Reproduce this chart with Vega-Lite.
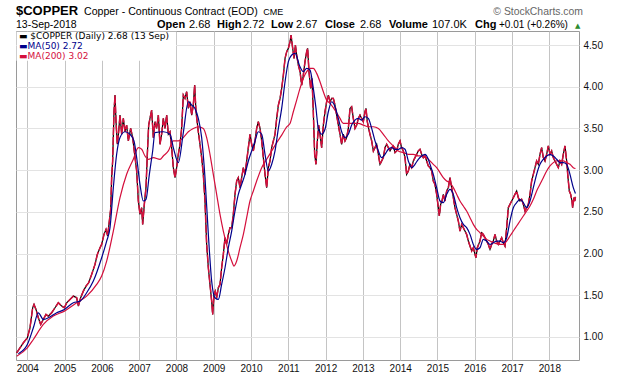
{
"$schema":"https://vega.github.io/schema/vega-lite/v6.json",
"width":563,"height":329,
"autosize":{"type":"none"},
"padding":{"left":16,"top":31,"right":41,"bottom":16},
"background":"white",
"config":{"view":{"stroke":"#9a9a9a","strokeWidth":1},"font":"Liberation Sans"},
"datasets":{
"px":[
{"t":2003.715,"v":0.81},{"t":2003.804,"v":0.87},{"t":2003.894,"v":0.93},{"t":2004.001,"v":0.99},{"t":2004.072,"v":1.11},{"t":2004.144,"v":1.35},{"t":2004.18,"v":1.39},{"t":2004.233,"v":1.33},{"t":2004.296,"v":1.23},{"t":2004.358,"v":1.15},{"t":2004.43,"v":1.21},{"t":2004.501,"v":1.27},{"t":2004.564,"v":1.25},{"t":2004.653,"v":1.29},{"t":2004.743,"v":1.35},{"t":2004.832,"v":1.41},{"t":2004.922,"v":1.37},{"t":2004.994,"v":1.35},{"t":2005.056,"v":1.41},{"t":2005.146,"v":1.45},{"t":2005.235,"v":1.49},{"t":2005.324,"v":1.47},{"t":2005.369,"v":1.37},{"t":2005.431,"v":1.47},{"t":2005.503,"v":1.55},{"t":2005.575,"v":1.61},{"t":2005.646,"v":1.65},{"t":2005.726,"v":1.75},{"t":2005.816,"v":1.87},{"t":2005.878,"v":1.99},{"t":2005.95,"v":2.07},{"t":2005.994,"v":2.11},{"t":2006.057,"v":2.23},{"t":2006.111,"v":2.29},{"t":2006.155,"v":2.21},{"t":2006.2,"v":2.39},{"t":2006.236,"v":2.53},{"t":2006.262,"v":2.91},{"t":2006.289,"v":3.11},{"t":2006.325,"v":3.7},{"t":2006.352,"v":3.9},{"t":2006.379,"v":3.58},{"t":2006.414,"v":3.31},{"t":2006.45,"v":3.46},{"t":2006.486,"v":3.66},{"t":2006.531,"v":3.43},{"t":2006.575,"v":3.62},{"t":2006.62,"v":3.46},{"t":2006.664,"v":3.54},{"t":2006.709,"v":3.35},{"t":2006.772,"v":3.5},{"t":2006.826,"v":3.39},{"t":2006.879,"v":3.19},{"t":2006.933,"v":2.99},{"t":2006.978,"v":2.63},{"t":2007.022,"v":2.47},{"t":2007.067,"v":2.55},{"t":2007.094,"v":2.35},{"t":2007.138,"v":2.59},{"t":2007.183,"v":2.79},{"t":2007.219,"v":3.19},{"t":2007.255,"v":3.54},{"t":2007.29,"v":3.62},{"t":2007.335,"v":3.72},{"t":2007.38,"v":3.39},{"t":2007.424,"v":3.58},{"t":2007.469,"v":3.5},{"t":2007.514,"v":3.66},
{"t":2007.558,"v":3.31},{"t":2007.603,"v":3.43},{"t":2007.648,"v":3.62},{"t":2007.692,"v":3.5},{"t":2007.737,"v":3.66},{"t":2007.782,"v":3.43},{"t":2007.827,"v":3.46},{"t":2007.871,"v":3.27},{"t":2007.916,"v":3.03},{"t":2007.961,"v":2.91},{"t":2008.005,"v":3.03},{"t":2008.05,"v":3.19},{"t":2008.095,"v":3.31},{"t":2008.139,"v":3.5},{"t":2008.184,"v":3.9},{"t":2008.229,"v":3.86},{"t":2008.274,"v":3.94},{"t":2008.318,"v":3.74},{"t":2008.363,"v":3.82},{"t":2008.408,"v":3.66},{"t":2008.452,"v":3.78},{"t":2008.488,"v":4.02},{"t":2008.524,"v":3.7},{"t":2008.586,"v":3.46},{"t":2008.631,"v":3.31},{"t":2008.676,"v":3.15},{"t":2008.72,"v":2.95},{"t":2008.765,"v":2.63},{"t":2008.81,"v":2.11},{"t":2008.855,"v":1.83},{"t":2008.899,"v":1.63},{"t":2008.944,"v":1.43},{"t":2008.971,"v":1.27},{"t":2009.007,"v":1.51},{"t":2009.042,"v":1.55},{"t":2009.078,"v":1.47},{"t":2009.123,"v":1.59},{"t":2009.168,"v":1.63},{"t":2009.212,"v":1.83},{"t":2009.257,"v":1.99},{"t":2009.302,"v":2.19},{"t":2009.346,"v":2.11},{"t":2009.391,"v":2.23},{"t":2009.436,"v":2.31},{"t":2009.481,"v":2.31},{"t":2009.525,"v":2.47},{"t":2009.57,"v":2.71},{"t":2009.615,"v":2.87},{"t":2009.659,"v":2.91},{"t":2009.704,"v":2.79},{"t":2009.749,"v":2.91},{"t":2009.794,"v":3.03},{"t":2009.838,"v":2.95},{"t":2009.883,"v":3.11},{"t":2009.928,"v":3.27},{"t":2009.972,"v":3.43},{"t":2010.017,"v":3.31},{"t":2010.062,"v":3.23},{"t":2010.107,"v":3.35},{"t":2010.151,"v":3.5},{"t":2010.196,"v":3.58},{"t":2010.241,"v":3.5},{"t":2010.286,"v":3.35},{"t":2010.33,"v":3.15},{"t":2010.375,"v":2.95},{"t":2010.42,"v":2.79},{"t":2010.464,"v":3.03},{"t":2010.509,"v":3.11},{"t":2010.554,"v":3.27},{"t":2010.599,"v":3.35},{"t":2010.643,"v":3.43},{"t":2010.688,"v":3.62},{"t":2010.733,"v":3.78},{"t":2010.778,"v":3.86},{"t":2010.822,"v":3.98},{"t":2010.867,"v":4.14},{"t":2010.912,"v":4.34},{"t":2010.957,"v":4.42},{"t":2011.001,"v":4.46},{"t":2011.046,"v":4.54},{"t":2011.073,"v":4.62},{"t":2011.117,"v":4.46},{"t":2011.153,"v":4.34},{"t":2011.189,"v":4.5},{"t":2011.224,"v":4.38},{"t":2011.269,"v":4.26},{"t":2011.314,"v":4.18},
{"t":2011.358,"v":4.02},{"t":2011.402,"v":4.14},{"t":2011.447,"v":4.3},{"t":2011.492,"v":4.42},{"t":2011.518,"v":4.46},{"t":2011.554,"v":4.18},{"t":2011.599,"v":3.98},{"t":2011.635,"v":4.1},{"t":2011.67,"v":3.7},{"t":2011.706,"v":3.19},{"t":2011.742,"v":3.07},{"t":2011.778,"v":3.35},{"t":2011.813,"v":3.54},{"t":2011.849,"v":3.43},{"t":2011.894,"v":3.27},{"t":2011.939,"v":3.54},{"t":2011.983,"v":3.7},{"t":2012.028,"v":3.82},{"t":2012.073,"v":3.9},{"t":2012.117,"v":3.82},{"t":2012.162,"v":3.86},{"t":2012.207,"v":3.86},{"t":2012.251,"v":3.78},{"t":2012.296,"v":3.66},{"t":2012.341,"v":3.54},{"t":2012.386,"v":3.43},{"t":2012.43,"v":3.31},{"t":2012.475,"v":3.43},{"t":2012.52,"v":3.35},{"t":2012.564,"v":3.39},{"t":2012.609,"v":3.5},{"t":2012.654,"v":3.74},{"t":2012.698,"v":3.76},{"t":2012.743,"v":3.62},{"t":2012.788,"v":3.5},{"t":2012.833,"v":3.54},{"t":2012.877,"v":3.62},{"t":2012.922,"v":3.66},{"t":2012.967,"v":3.62},{"t":2013.011,"v":3.58},{"t":2013.056,"v":3.7},{"t":2013.083,"v":3.74},{"t":2013.118,"v":3.58},{"t":2013.154,"v":3.5},{"t":2013.19,"v":3.43},{"t":2013.235,"v":3.35},{"t":2013.28,"v":3.23},{"t":2013.324,"v":3.27},{"t":2013.369,"v":3.31},{"t":2013.414,"v":3.19},{"t":2013.458,"v":3.07},{"t":2013.503,"v":3.11},{"t":2013.548,"v":3.15},{"t":2013.592,"v":3.27},{"t":2013.637,"v":3.31},{"t":2013.682,"v":3.27},{"t":2013.727,"v":3.23},{"t":2013.771,"v":3.27},{"t":2013.816,"v":3.29},{"t":2013.861,"v":3.21},{"t":2013.905,"v":3.23},{"t":2013.95,"v":3.31},{"t":2013.995,"v":3.35},{"t":2014.039,"v":3.27},{"t":2014.084,"v":3.23},{"t":2014.129,"v":3.15},{"t":2014.173,"v":2.95},{"t":2014.218,"v":2.99},{"t":2014.263,"v":3.07},{"t":2014.308,"v":3.03},{"t":2014.352,"v":3.11},{"t":2014.397,"v":3.15},{"t":2014.442,"v":3.19},{"t":2014.486,"v":3.23},{"t":2014.531,"v":3.25},{"t":2014.576,"v":3.19},{"t":2014.62,"v":3.15},{"t":2014.665,"v":3.17},{"t":2014.71,"v":3.11},{"t":2014.754,"v":3.05},
{"t":2014.799,"v":3.03},{"t":2014.844,"v":2.99},{"t":2014.888,"v":2.87},{"t":2014.933,"v":2.83},{"t":2014.978,"v":2.71},{"t":2015.022,"v":2.55},{"t":2015.049,"v":2.45},{"t":2015.085,"v":2.59},{"t":2015.121,"v":2.63},{"t":2015.156,"v":2.71},{"t":2015.201,"v":2.63},{"t":2015.246,"v":2.75},{"t":2015.291,"v":2.79},{"t":2015.335,"v":2.91},{"t":2015.38,"v":2.79},{"t":2015.425,"v":2.67},{"t":2015.469,"v":2.55},{"t":2015.514,"v":2.47},{"t":2015.559,"v":2.39},{"t":2015.603,"v":2.27},{"t":2015.648,"v":2.35},{"t":2015.693,"v":2.31},{"t":2015.737,"v":2.27},{"t":2015.782,"v":2.23},{"t":2015.827,"v":2.15},{"t":2015.872,"v":2.09},{"t":2015.916,"v":2.03},{"t":2015.961,"v":2.07},{"t":2016.006,"v":1.99},{"t":2016.032,"v":1.95},{"t":2016.068,"v":2.07},{"t":2016.104,"v":2.11},{"t":2016.139,"v":2.15},{"t":2016.184,"v":2.25},{"t":2016.229,"v":2.23},{"t":2016.274,"v":2.19},{"t":2016.318,"v":2.15},{"t":2016.363,"v":2.11},{"t":2016.408,"v":2.05},{"t":2016.453,"v":2.11},{"t":2016.497,"v":2.15},{"t":2016.542,"v":2.23},{"t":2016.587,"v":2.15},{"t":2016.631,"v":2.11},{"t":2016.676,"v":2.15},{"t":2016.721,"v":2.19},{"t":2016.765,"v":2.13},{"t":2016.81,"v":2.09},{"t":2016.855,"v":2.31},{"t":2016.899,"v":2.55},{"t":2016.944,"v":2.59},{"t":2016.989,"v":2.63},{"t":2017.034,"v":2.67},{"t":2017.078,"v":2.71},{"t":2017.123,"v":2.75},{"t":2017.168,"v":2.67},{"t":2017.212,"v":2.63},{"t":2017.257,"v":2.65},{"t":2017.302,"v":2.59},{"t":2017.347,"v":2.51},{"t":2017.391,"v":2.55},{"t":2017.436,"v":2.59},{"t":2017.481,"v":2.71},{"t":2017.525,"v":2.87},{"t":2017.57,"v":2.95},{"t":2017.615,"v":3.03},{"t":2017.659,"v":3.11},{"t":2017.704,"v":3.07},{"t":2017.749,"v":3.19},{"t":2017.793,"v":3.27},{"t":2017.838,"v":3.15},{"t":2017.883,"v":3.11},{"t":2017.928,"v":3.19},{"t":2017.972,"v":3.29},{"t":2018.017,"v":3.19},{"t":2018.062,"v":3.23},{"t":2018.106,"v":3.15},{"t":2018.151,"v":3.11},{"t":2018.196,"v":3.07},{"t":2018.24,"v":3.03},{"t":2018.285,"v":3.11},{"t":2018.33,"v":3.07},{"t":2018.374,"v":3.19},{"t":2018.419,"v":3.29},{"t":2018.464,"v":3.11},{"t":2018.5,"v":2.91},{"t":2018.535,"v":2.75},{"t":2018.571,"v":2.71},{"t":2018.607,"v":2.63},{"t":2018.624,"v":2.55},{"t":2018.66,"v":2.67},{"t":2018.682,"v":2.63},{"t":2018.7,"v":2.68}
],
"m50":[
{"t":2003.76,"v":0.8},{"t":2004.001,"v":0.91},{"t":2004.162,"v":1.11},{"t":2004.296,"v":1.29},{"t":2004.43,"v":1.21},{"t":2004.564,"v":1.23},{"t":2004.788,"v":1.29},{"t":2004.994,"v":1.33},{"t":2005.235,"v":1.41},{"t":2005.413,"v":1.43},{"t":2005.592,"v":1.53},{"t":2005.771,"v":1.67},{"t":2005.994,"v":1.95},{"t":2006.128,"v":2.15},{"t":2006.218,"v":2.31},{"t":2006.307,"v":2.79},{"t":2006.396,"v":3.19},{"t":2006.486,"v":3.39},{"t":2006.62,"v":3.46},{"t":2006.754,"v":3.43},{"t":2006.861,"v":3.35},{"t":2006.933,"v":3.15},{"t":2007.022,"v":2.83},{"t":2007.111,"v":2.63},{"t":2007.183,"v":2.65},{"t":2007.273,"v":2.95},{"t":2007.362,"v":3.23},{"t":2007.424,"v":3.45},{"t":2007.648,"v":3.46},{"t":2007.827,"v":3.43},{"t":2007.916,"v":3.27},{"t":2008.05,"v":3.09},{"t":2008.184,"v":3.45},{"t":2008.318,"v":3.82},{"t":2008.408,"v":3.78},{"t":2008.497,"v":3.74},{"t":2008.586,"v":3.62},{"t":2008.676,"v":3.39},{"t":2008.765,"v":2.91},{"t":2008.855,"v":2.23},{"t":2008.944,"v":1.67},{"t":2009.033,"v":1.47},{"t":2009.123,"v":1.45},{"t":2009.212,"v":1.63},{"t":2009.302,"v":1.83},{"t":2009.391,"v":2.07},{"t":2009.481,"v":2.27},{"t":2009.57,"v":2.51},{"t":2009.659,"v":2.71},{"t":2009.749,"v":2.83},{"t":2009.838,"v":2.95},{"t":2009.928,"v":3.11},{"t":2010.017,"v":3.23},{"t":2010.107,"v":3.35},{"t":2010.196,"v":3.46},{"t":2010.286,"v":3.43},{"t":2010.375,"v":3.19},{"t":2010.464,"v":2.99},{"t":2010.554,"v":3.07},{"t":2010.643,"v":3.23},{"t":2010.733,"v":3.5},{"t":2010.822,"v":3.74},{"t":2010.912,"v":4.06},{"t":2011.001,"v":4.3},{"t":2011.091,"v":4.38},{"t":2011.18,"v":4.4},{"t":2011.313,"v":4.24},{"t":2011.402,"v":4.18},{"t":2011.492,"v":4.22},{"t":2011.581,"v":4.2},{"t":2011.67,"v":3.98},{"t":2011.742,"v":3.74},{"t":2011.804,"v":3.5},{"t":2011.894,"v":3.43},{"t":2011.983,"v":3.49},{"t":2012.073,"v":3.7},{"t":2012.162,"v":3.82},{"t":2012.251,"v":3.76},{"t":2012.341,"v":3.62},{"t":2012.43,"v":3.46},{"t":2012.52,"v":3.39},{"t":2012.609,"v":3.43},{"t":2012.698,"v":3.54},{"t":2012.788,"v":3.6},{"t":2012.877,"v":3.62},{"t":2012.967,"v":3.6},{"t":2013.056,"v":3.64},{"t":2013.145,"v":3.62},{"t":2013.235,"v":3.5},{"t":2013.324,"v":3.35},{"t":2013.414,"v":3.23},{"t":2013.503,"v":3.15},{"t":2013.592,"v":3.19},{"t":2013.682,"v":3.25},{"t":2013.771,"v":3.27},{"t":2013.861,"v":3.25},{"t":2013.95,"v":3.25},{"t":2014.039,"v":3.27},{"t":2014.129,"v":3.25},{"t":2014.218,"v":3.11},{"t":2014.308,"v":3.03},{"t":2014.397,"v":3.07},{"t":2014.486,"v":3.13},{"t":2014.576,"v":3.17},{"t":2014.665,"v":3.19},{"t":2014.754,"v":3.13},{"t":2014.799,"v":3.07},{"t":2014.888,"v":2.95},{"t":2014.978,"v":2.79},{"t":2015.067,"v":2.63},{"t":2015.156,"v":2.61},{"t":2015.246,"v":2.71},{"t":2015.335,"v":2.77},{"t":2015.425,"v":2.71},{"t":2015.514,"v":2.55},{"t":2015.603,"v":2.43},{"t":2015.693,"v":2.35},{"t":2015.782,"v":2.31},{"t":2015.872,"v":2.23},{"t":2015.961,"v":2.11},{"t":2016.05,"v":2.05},{"t":2016.139,"v":2.07},{"t":2016.229,"v":2.17},{"t":2016.318,"v":2.15},{"t":2016.408,"v":2.11},{"t":2016.497,"v":2.13},{"t":2016.587,"v":2.15},{"t":2016.676,"v":2.15},{"t":2016.765,"v":2.13},{"t":2016.855,"v":2.19},{"t":2016.944,"v":2.39},{"t":2017.034,"v":2.55},{"t":2017.123,"v":2.61},{"t":2017.212,"v":2.65},{"t":2017.302,"v":2.61},{"t":2017.391,"v":2.55},{"t":2017.481,"v":2.63},{"t":2017.57,"v":2.79},{"t":2017.659,"v":2.95},{"t":2017.749,"v":3.07},{"t":2017.838,"v":3.13},{"t":2017.928,"v":3.17},{"t":2018.017,"v":3.19},{"t":2018.106,"v":3.17},{"t":2018.196,"v":3.13},{"t":2018.285,"v":3.09},{"t":2018.374,"v":3.09},{"t":2018.464,"v":3.07},{"t":2018.553,"v":2.95},{"t":2018.642,"v":2.79},{"t":2018.7,"v":2.72}
],
"m200":[
{"t":2003.715,"v":0.77},{"t":2004.001,"v":0.87},{"t":2004.162,"v":0.97},{"t":2004.43,"v":1.15},{"t":2004.698,"v":1.25},{"t":2004.994,"v":1.31},{"t":2005.324,"v":1.41},{"t":2005.592,"v":1.49},{"t":2005.86,"v":1.63},{"t":2005.994,"v":1.73},{"t":2006.128,"v":1.91},{"t":2006.307,"v":2.27},{"t":2006.486,"v":2.67},{"t":2006.664,"v":2.95},{"t":2006.843,"v":3.13},{"t":2006.978,"v":3.27},{"t":2007.067,"v":3.25},{"t":2007.156,"v":3.17},{"t":2007.246,"v":3.13},{"t":2007.38,"v":3.15},{"t":2007.559,"v":3.13},{"t":2007.648,"v":3.17},{"t":2007.782,"v":3.23},{"t":2007.916,"v":3.35},{"t":2008.05,"v":3.35},{"t":2008.184,"v":3.39},{"t":2008.318,"v":3.46},{"t":2008.452,"v":3.5},{"t":2008.586,"v":3.52},{"t":2008.72,"v":3.5},{"t":2008.81,"v":3.39},{"t":2008.899,"v":3.19},{"t":2008.988,"v":2.95},{"t":2009.078,"v":2.71},{"t":2009.168,"v":2.47},{"t":2009.257,"v":2.27},{"t":2009.391,"v":2.03},{"t":2009.481,"v":1.91},{"t":2009.543,"v":1.85},{"t":2009.615,"v":1.91},{"t":2009.704,"v":2.07},{"t":2009.794,"v":2.23},{"t":2009.883,"v":2.43},{"t":2009.972,"v":2.63},{"t":2010.062,"v":2.75},{"t":2010.151,"v":2.87},{"t":2010.286,"v":3.03},{"t":2010.42,"v":3.13},{"t":2010.554,"v":3.23},{"t":2010.688,"v":3.33},{"t":2010.822,"v":3.42},{"t":2010.957,"v":3.52},{"t":2011.045,"v":3.56},{"t":2011.134,"v":3.7},{"t":2011.224,"v":3.84},{"t":2011.313,"v":3.98},{"t":2011.402,"v":4.1},{"t":2011.492,"v":4.18},{"t":2011.581,"v":4.22},{"t":2011.67,"v":4.22},{"t":2011.76,"v":4.16},{"t":2011.849,"v":4.06},{"t":2011.939,"v":3.94},{"t":2012.028,"v":3.84},{"t":2012.117,"v":3.8},{"t":2012.251,"v":3.72},{"t":2012.386,"v":3.62},{"t":2012.475,"v":3.56},{"t":2012.609,"v":3.56},{"t":2012.743,"v":3.56},{"t":2012.877,"v":3.56},{"t":2013.011,"v":3.54},{"t":2013.145,"v":3.52},{"t":2013.28,"v":3.52},{"t":2013.414,"v":3.5},{"t":2013.548,"v":3.43},{"t":2013.682,"v":3.35},{"t":2013.816,"v":3.29},{"t":2013.95,"v":3.23},{"t":2014.084,"v":3.21},{"t":2014.218,"v":3.19},{"t":2014.352,"v":3.19},{"t":2014.486,"v":3.17},{"t":2014.62,"v":3.17},{"t":2014.754,"v":3.13},{"t":2014.799,"v":3.11},{"t":2014.888,"v":3.07},{"t":2014.978,"v":3.03},{"t":2015.067,"v":2.97},{"t":2015.156,"v":2.91},{"t":2015.246,"v":2.87},{"t":2015.335,"v":2.85},{"t":2015.425,"v":2.79},{"t":2015.514,"v":2.71},{"t":2015.603,"v":2.63},{"t":2015.693,"v":2.57},{"t":2015.782,"v":2.51},{"t":2015.872,"v":2.43},{"t":2015.961,"v":2.35},{"t":2016.05,"v":2.29},{"t":2016.139,"v":2.25},{"t":2016.229,"v":2.21},{"t":2016.318,"v":2.17},{"t":2016.408,"v":2.15},{"t":2016.497,"v":2.13},{"t":2016.587,"v":2.12},{"t":2016.676,"v":2.11},{"t":2016.765,"v":2.11},{"t":2016.855,"v":2.15},{"t":2016.944,"v":2.21},{"t":2017.034,"v":2.27},{"t":2017.123,"v":2.33},{"t":2017.212,"v":2.39},{"t":2017.302,"v":2.45},{"t":2017.391,"v":2.51},{"t":2017.481,"v":2.57},{"t":2017.57,"v":2.65},{"t":2017.659,"v":2.75},{"t":2017.749,"v":2.83},{"t":2017.838,"v":2.91},{"t":2017.928,"v":2.99},{"t":2018.017,"v":3.05},{"t":2018.106,"v":3.09},{"t":2018.196,"v":3.11},{"t":2018.285,"v":3.11},{"t":2018.374,"v":3.11},{"t":2018.464,"v":3.09},{"t":2018.553,"v":3.07},{"t":2018.642,"v":3.03},{"t":2018.7,"v":3.02}
],
"hdr":[{"s":"$COPPER"}],
"sub":[{"s":"Copper - Continuous Contract (EOD)"}],
"cme":[{"s":"CME"}],
"sc":[{"s":"© StockCharts.com"}],
"dt":[{"s":"13-Sep-2018"}],
"l1":[{"s":"▬ $COPPER (Daily) 2.68 (13 Sep)"}],
"l2":[{"s":"▬MA(50) 2.72"}],
"l3":[{"s":"▬MA(200) 3.02"}],
"k1":[{"s":"Open"}],"n1":[{"s":"2.68"}],
"k2":[{"s":"High"}],"n2":[{"s":"2.72"}],
"k3":[{"s":"Low"}],"n3":[{"s":"2.67"}],
"k4":[{"s":"Close"}],"n4":[{"s":"2.68"}],
"k5":[{"s":"Volume"}],"n5":[{"s":"107.0K"}],
"k6":[{"s":"Chg"}],"n6":[{"s":"+0.01 (+0.26%)"}],
"up":[{"s":"▲"}],
"box":[{"s":"legend"}]
},
"layer":[
{"data":{"name":"px"},"mark":{"type":"line","color":"#000000","strokeWidth":1.2},
"encoding":{
"x":{"field":"t","type":"quantitative","scale":{"domain":[2003.697,2018.795],"nice":false,"zero":false},
"axis":{"title":null,"values":[2004,2004.5,2005,2005.5,2006,2006.5,2007,2007.5,2008,2008.5,2009,2009.5,2010,2010.5,2011,2011.5,2012,2012.5,2013,2013.5,2014,2014.5,2015,2015.5,2016,2016.5,2017,2017.5,2018,2018.5],
"labelExpr":"datum.value % 1 == 0 ? '' + datum.value : ''","labelFlush":false,"labelOverlap":false,"grid":true,
"gridColor":{"condition":{"test":"datum.value % 1 == 0","value":"#c4c4c4"},"value":"#e3e3e3"},
"domain":false,"ticks":false,"labelPadding":3,"labelFontSize":10,"labelColor":"#111","labelFont":"Liberation Sans"}},
"y":{"field":"v","type":"quantitative","scale":{"domain":[0.724,4.668],"nice":false,"zero":false},
"axis":{"orient":"right","title":null,"values":[1,1.25,1.5,1.75,2,2.25,2.5,2.75,3,3.25,3.5,3.75,4,4.25,4.5],"format":".2f","grid":true,"gridColor":"#e3e3e3","domain":false,"ticks":false,"labelPadding":4,"labelFontSize":10,"labelColor":"#111","labelFont":"Liberation Sans"}}}},
{"data":{"name":"px"},"mark":{"type":"line","color":"#d40f3c","strokeWidth":1.5,"strokeDash":[8,2]},"encoding":{"x":{"field":"t","type":"quantitative"},"y":{"field":"v","type":"quantitative"}}},
{"data":{"name":"m200"},"mark":{"type":"line","color":"#d40f3c","strokeWidth":1.2,"interpolate":"monotone"},"encoding":{"x":{"field":"t","type":"quantitative"},"y":{"field":"v","type":"quantitative"}}},
{"data":{"name":"m50"},"mark":{"type":"line","color":"#00008b","strokeWidth":1.2,"interpolate":"monotone"},"encoding":{"x":{"field":"t","type":"quantitative"},"y":{"field":"v","type":"quantitative"}}},
{"data":{"name":"box"},"mark":{"type":"rect","fill":"white"},"encoding":{"x":{"datum":2003.71},"x2":{"datum":2007.99},"y":{"datum":4.66},"y2":{"datum":4.31}}},
{"data":{"name":"l1"},"mark":{"type":"text","font":"DejaVu Sans","fontSize":9,"align":"left","baseline":"alphabetic","color":"#000000"},"encoding":{"text":{"field":"s"},"x":{"datum":2003.777},"y":{"datum":4.572}}},
{"data":{"name":"l2"},"mark":{"type":"text","font":"DejaVu Sans","fontSize":9,"align":"left","baseline":"alphabetic","color":"#00008b"},"encoding":{"text":{"field":"s"},"x":{"datum":2003.777},"y":{"datum":4.452}}},
{"data":{"name":"l3"},"mark":{"type":"text","font":"DejaVu Sans","fontSize":9,"align":"left","baseline":"alphabetic","color":"#d40f3c"},"encoding":{"text":{"field":"s"},"x":{"datum":2003.777},"y":{"datum":4.338}}},
{"data":{"name":"hdr"},"mark":{"type":"text","font":"Liberation Sans","fontWeight":"bold","fontSize":13,"align":"left","baseline":"alphabetic","color":"#000000"},"encoding":{"text":{"field":"s"},"x":{"datum":2003.697},"y":{"datum":4.86}}},
{"data":{"name":"sub"},"mark":{"type":"text","font":"Liberation Sans","fontSize":10.6,"align":"left","baseline":"alphabetic","color":"#000000"},"encoding":{"text":{"field":"s"},"x":{"datum":2005.52},"y":{"datum":4.86}}},
{"data":{"name":"cme"},"mark":{"type":"text","font":"Liberation Sans","fontSize":9,"align":"left","baseline":"alphabetic","color":"#000000"},"encoding":{"text":{"field":"s"},"x":{"datum":2010.33},"y":{"datum":4.86}}},
{"data":{"name":"sc"},"mark":{"type":"text","font":"Liberation Sans","fontSize":10.4,"align":"right","baseline":"alphabetic","color":"#666666"},"encoding":{"text":{"field":"s"},"x":{"datum":2018.902},"y":{"datum":4.86}}},
{"data":{"name":"dt"},"mark":{"type":"text","font":"Liberation Sans","fontSize":10.5,"align":"left","baseline":"alphabetic","color":"#000000"},"encoding":{"text":{"field":"s"},"x":{"datum":2003.697},"y":{"datum":4.704}}},
{"data":{"name":"k1"},"mark":{"type":"text","font":"Liberation Sans","fontWeight":"bold","fontSize":11,"align":"left","baseline":"alphabetic","color":"#000000"},"encoding":{"text":{"field":"s"},"x":{"datum":2007.478},"y":{"datum":4.704}}},
{"data":{"name":"n1"},"mark":{"type":"text","font":"Liberation Sans","fontSize":11,"align":"left","baseline":"alphabetic","color":"#000000"},"encoding":{"text":{"field":"s"},"x":{"datum":2008.336},"y":{"datum":4.704}}},
{"data":{"name":"k2"},"mark":{"type":"text","font":"Liberation Sans","fontWeight":"bold","fontSize":11,"align":"left","baseline":"alphabetic","color":"#000000"},"encoding":{"text":{"field":"s"},"x":{"datum":2009.087},"y":{"datum":4.704}}},
{"data":{"name":"n2"},"mark":{"type":"text","font":"Liberation Sans","fontSize":11,"align":"left","baseline":"alphabetic","color":"#000000"},"encoding":{"text":{"field":"s"},"x":{"datum":2009.784},"y":{"datum":4.704}}},
{"data":{"name":"k3"},"mark":{"type":"text","font":"Liberation Sans","fontWeight":"bold","fontSize":11,"align":"left","baseline":"alphabetic","color":"#000000"},"encoding":{"text":{"field":"s"},"x":{"datum":2010.535},"y":{"datum":4.704}}},
{"data":{"name":"n3"},"mark":{"type":"text","font":"Liberation Sans","fontSize":11,"align":"left","baseline":"alphabetic","color":"#000000"},"encoding":{"text":{"field":"s"},"x":{"datum":2011.206},"y":{"datum":4.704}}},
{"data":{"name":"k4"},"mark":{"type":"text","font":"Liberation Sans","fontWeight":"bold","fontSize":11,"align":"left","baseline":"alphabetic","color":"#000000"},"encoding":{"text":{"field":"s"},"x":{"datum":2011.983},"y":{"datum":4.704}}},
{"data":{"name":"n4"},"mark":{"type":"text","font":"Liberation Sans","fontSize":11,"align":"left","baseline":"alphabetic","color":"#000000"},"encoding":{"text":{"field":"s"},"x":{"datum":2012.922},"y":{"datum":4.704}}},
{"data":{"name":"k5"},"mark":{"type":"text","font":"Liberation Sans","fontWeight":"bold","fontSize":11,"align":"left","baseline":"alphabetic","color":"#000000"},"encoding":{"text":{"field":"s"},"x":{"datum":2013.7},"y":{"datum":4.704}}},
{"data":{"name":"n5"},"mark":{"type":"text","font":"Liberation Sans","fontSize":11,"align":"left","baseline":"alphabetic","color":"#000000"},"encoding":{"text":{"field":"s"},"x":{"datum":2014.853},"y":{"datum":4.704}}},
{"data":{"name":"k6"},"mark":{"type":"text","font":"Liberation Sans","fontWeight":"bold","fontSize":11,"align":"left","baseline":"alphabetic","color":"#000000"},"encoding":{"text":{"field":"s"},"x":{"datum":2016.006},"y":{"datum":4.704}}},
{"data":{"name":"n6"},"mark":{"type":"text","font":"Liberation Sans","fontSize":10,"align":"left","baseline":"alphabetic","color":"#000000"},"encoding":{"text":{"field":"s"},"x":{"datum":2016.649},"y":{"datum":4.704}}},
{"data":{"name":"up"},"mark":{"type":"text","font":"DejaVu Sans","fontSize":7,"align":"left","baseline":"alphabetic","color":"#2e8b2e"},"encoding":{"text":{"field":"s"},"x":{"datum":2018.687},"y":{"datum":4.704}}}
]
}
